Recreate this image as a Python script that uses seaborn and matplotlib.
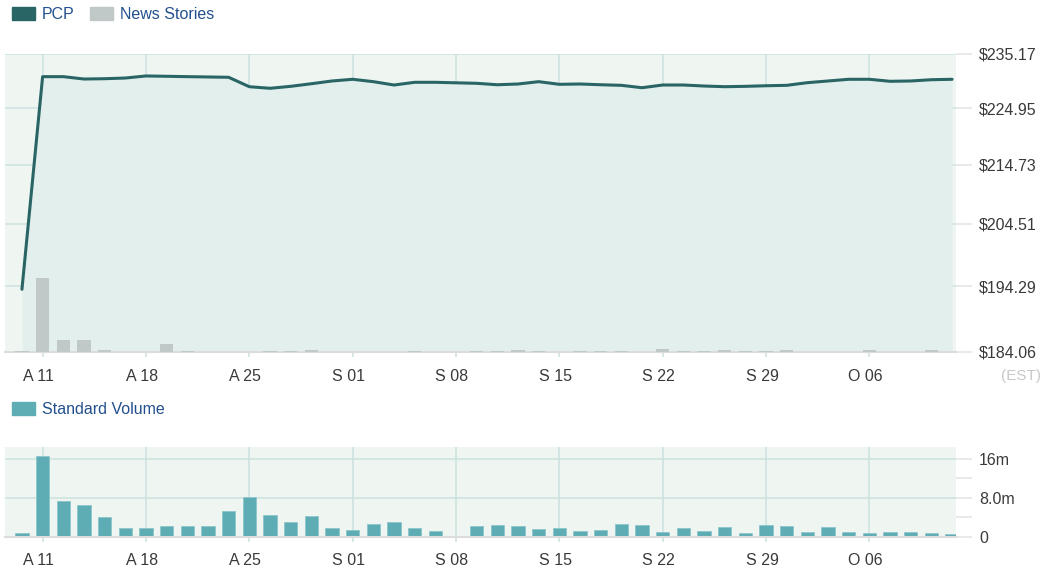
import matplotlib
matplotlib.use("Agg")
import matplotlib.pyplot as plt
import seaborn as sns
import pandas as pd
from matplotlib.patches import Patch
from matplotlib.ticker import FixedLocator, NullLocator, FuncFormatter
from matplotlib.transforms import ScaledTranslation

# one slot per weekday, Aug 10 - Oct 12; slot 21 is the market holiday (no data)
slots = list(range(46))
price = [193.80, 230.83, 230.83, 230.38, 230.44, 230.57, 230.96, 230.90, 230.83, 230.77,
         230.71, 228.93, 228.63, 229.00, 229.49, 230.01, 230.33, 229.88, 229.25, 229.76,
         229.76, None, 229.57, 229.30, 229.44, 229.88, 229.38, 229.44, 229.30, 229.19,
         228.74, 229.25, 229.25, 229.06, 228.93, 229.00, 229.11, 229.19, 229.69, 230.01,
         230.33, 230.33, 229.95, 230.01, 230.25, 230.33]
news = [1, 74, 12, 12, 2, 0, 0, 8, 1, 0,
        0, 0, 1, 1, 2, 0, 0, 0, 0, 1,
        0, 0, 1, 1, 2, 1, 0, 1, 1, 1,
        0, 3, 1, 1, 2, 1, 1, 2, 0, 0,
        0, 2, 0, 0, 2, 0]
volume = [0.69, 16.5, 7.3, 6.5, 4.0, 1.7, 1.7, 2.1, 2.1, 2.1,
          5.3, 8.1, 4.4, 3.0, 4.2, 1.7, 1.4, 2.6, 3.0, 1.7,
          1.16, None, 2.1, 2.4, 2.2, 1.6, 1.7, 1.2, 1.4, 2.7,
          2.3, 0.96, 1.85, 1.16, 2.0, 0.7, 2.3, 2.2, 0.96, 2.05,
          0.9, 0.82, 0.9, 0.9, 0.82, 0.55]

tick_slots = [1, 6, 11, 16, 21, 26, 31, 36, 41]
tick_labels = ["A 11", "A 18", "A 25", "S 01", "S 08", "S 15", "S 22", "S 29", "O 06"]
price_ticks = [184.06, 194.29, 204.51, 214.73, 224.95, 235.17]
volume_labels = {0: "0", 8: "8.0m", 16: "16m"}

BG = "#eff6f2"
AREA = "#e3efec"
GRID = "#cde2df"
LINE = "#2a6566"
NEWS = "#c0c8c8"
VOL = "#5eacb4"
TXT = "#3a3a3a"
LEG = "#23508e"

df = pd.DataFrame({"slot": slots, "price": price, "news": news, "volume": volume})
price_df = df.dropna(subset=["price"])
vol_df = df.dropna(subset=["volume"])

sns.set_theme(style="white")
plt.rcParams["font.family"] = ["Liberation Sans", "DejaVu Sans"]

fig = plt.figure(figsize=(10.44, 5.8), dpi=100)
xlim = (-0.82, 45.19)


def style_x(ax, pad):
    ax.set_xlim(*xlim)
    ax.set_xticks(tick_slots, tick_labels)
    ax.tick_params(axis="x", length=3.6, width=1.1, color=GRID, pad=pad,
                   labelsize=11.5, labelcolor=TXT, bottom=True)
    shift = ScaledTranslation(-4 / 100, 0, fig.dpi_scale_trans)
    for lbl in ax.get_xticklabels():
        lbl.set_transform(lbl.get_transform() + shift)
    for s in ["top", "left", "right"]:
        ax.spines[s].set_visible(False)
    ax.spines["bottom"].set_color("#dcdcdc")
    ax.spines["bottom"].set_linewidth(1.5)
    ax.set_xlabel("")
    ax.set_ylabel("")


def style_y_right(ax):
    ax.yaxis.tick_right()
    ax.yaxis.set_label_position("right")
    ax.tick_params(axis="y", which="both", length=11.5, width=1.1, color="#e2e4e4", pad=5,
                   labelsize=11.5, labelcolor=TXT, right=True, left=False,
                   labelright=True, labelleft=False)


# %% price panel
ax = fig.add_axes([5 / 1044, 228 / 580, 951 / 1044, 298 / 580])
ax.set_facecolor(BG)
ax.set_yscale("log")
ax.fill_between(price_df["slot"], price_df["price"], price_ticks[0], color=AREA, lw=0, zorder=1)
sns.lineplot(data=price_df, x="slot", y="price", ax=ax, color=LINE, lw=2.2, zorder=3,
             solid_joinstyle="round")
ax.set_ylim(price_ticks[0], price_ticks[-1])
ax.grid(True, color=GRID, lw=1.1)
ax.set_axisbelow(True)

axn = ax.twinx()
sns.barplot(data=df, x="slot", y="news", native_scale=True, width=0.65, color=NEWS,
            saturation=1, errorbar=None, linewidth=0, ax=axn, zorder=2)
axn.set_ylim(0, 298)
axn.set_axis_off()

ax.yaxis.set_major_locator(FixedLocator(price_ticks))
ax.yaxis.set_minor_locator(NullLocator())
ax.yaxis.set_major_formatter(FuncFormatter(lambda v, p: f"${v:.2f}"))
style_y_right(ax)
style_x(ax, pad=8.5)

# %% volume panel
axv = fig.add_axes([5 / 1044, 43.3 / 580, 951 / 1044, 90 / 580])
axv.set_facecolor(BG)
sns.barplot(data=vol_df, x="slot", y="volume", native_scale=True, width=0.65, color=VOL,
            saturation=1, errorbar=None, edgecolor="#8cc6cb", linewidth=0.6, ax=axv, zorder=2)
axv.set_ylim(0, 18.46)
axv.yaxis.set_major_locator(FixedLocator([0, 8, 16]))
axv.yaxis.set_minor_locator(FixedLocator([4, 12]))
axv.yaxis.set_major_formatter(FuncFormatter(lambda v, p: volume_labels.get(int(round(v)), "")))
style_y_right(axv)
axv.grid(True, which="major", color=GRID, lw=1.1)
axv.set_axisbelow(True)
style_x(axv, pad=8)

# %% legends and notes
fig.legend(handles=[Patch(color=LINE), Patch(color=NEWS)], labels=["PCP", "News Stories"],
           loc="upper left", bbox_to_anchor=(12 / 1044, 1 - 7 / 580), ncol=2, frameon=False,
           fontsize=11.5, labelcolor=LEG, handlelength=1.44, handleheight=0.8,
           handletextpad=0.44, columnspacing=0.94, borderpad=0, borderaxespad=0)
fig.legend(handles=[Patch(color=VOL)], labels=["Standard Volume"],
           loc="upper left", bbox_to_anchor=(12 / 1044, 1 - 402 / 580), frameon=False,
           fontsize=11.5, labelcolor=LEG, handlelength=1.44, handleheight=0.8,
           handletextpad=0.44, borderpad=0, borderaxespad=0)
fig.text(1041 / 1044, 1 - 376 / 580, "(EST)", ha="right", va="center", color="#c8c8c8",
         fontsize=11)

fig.savefig("out.png", dpi=100)
